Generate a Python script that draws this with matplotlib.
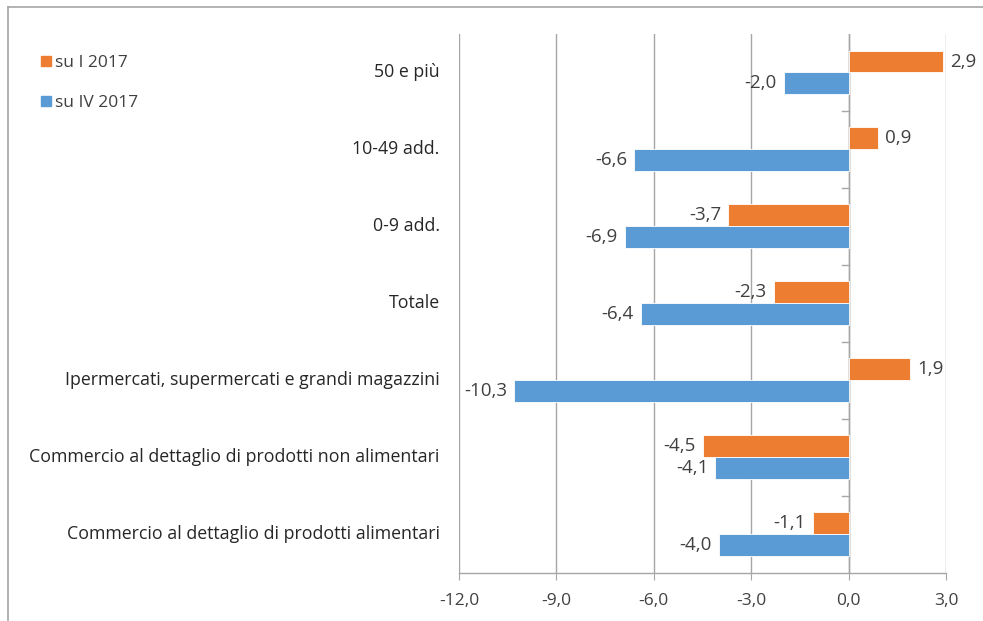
import matplotlib
matplotlib.use("Agg")
import matplotlib.pyplot as plt
from matplotlib.lines import Line2D
import numpy as np

categories = ["50 e più", "10-49 add.", "0-9 add.", "Totale",
              "Ipermercati, supermercati e grandi magazzini",
              "Commercio al dettaglio di prodotti non alimentari",
              "Commercio al dettaglio di prodotti alimentari"]
su_I_2017 = [2.9, 0.9, -3.7, -2.3, 1.9, -4.5, -1.1]
su_IV_2017 = [-2.0, -6.6, -6.9, -6.4, -10.3, -4.1, -4.0]
series_names = ["su I 2017", "su IV 2017"]
xticks = [-12, -9, -6, -3, 0, 3]

plt.rcParams['font.family'] = ['Open Sans', 'DejaVu Sans']

W, H = 983, 621
fig = plt.figure(figsize=(W / 100, H / 100), dpi=100)
ax = fig.add_axes([459 / W, 1 - 572.5 / H, (946 - 459) / W, (572.5 - 34) / H])

orange = "#ED7D31"
blue = "#5B9BD5"
n = len(categories)
y = np.arange(n)[::-1].astype(float)  # top category highest
bh = 0.285

ax.barh(y + bh / 2, su_I_2017, height=bh, color=orange, edgecolor="white", linewidth=0.6, zorder=3)
ax.barh(y - bh / 2, su_IV_2017, height=bh, color=blue, edgecolor="white", linewidth=0.6, zorder=3)

fmt = lambda v: f"{v:.1f}".replace(".", ",")
pad = 0.22
lab_fs = 13.5
for yi, v in list(zip(y + bh / 2, su_I_2017)) + list(zip(y - bh / 2, su_IV_2017)):
    if v >= 0:
        ax.text(v + pad, yi, fmt(v), ha="left", va="center", fontsize=lab_fs, color="#404040", zorder=4)
    else:
        ax.text(v - pad, yi, fmt(v), ha="right", va="center", fontsize=lab_fs, color="#404040", zorder=4)

ax.set_xlim(-12, 3)
ax.set_ylim(-0.5, n - 0.5)
ax.set_xticks(xticks)
ax.set_xticklabels([fmt(t) for t in xticks], fontsize=12.5, color="#404040")
ax.tick_params(axis="x", length=5, color="#A6A6A6", pad=10)
ax.xaxis.grid(True, color="#A6A6A6", linewidth=1, zorder=0)
for s in ["top", "right", "left"]:
    ax.spines[s].set_visible(False)
ax.spines["bottom"].set_color("#A6A6A6")
ax.spines["bottom"].set_linewidth(1)

# category axis at x = 0
ax.set_yticks([])
ax.axvline(0, color="#A6A6A6", linewidth=1, zorder=2)
for b in np.arange(0.5, n - 0.5, 1.0):
    ax.plot([-0.2, 0], [b, b], color="#A6A6A6", linewidth=1, zorder=2)

for yi, c in zip(y, categories):
    ax.annotate(c, xy=(0, yi), xycoords=("axes fraction", "data"),
                xytext=(-14, 0), textcoords="offset points",
                ha="right", va="center", fontsize=12.8, color="#262626")

# legend
handles = [Line2D([], [], marker="s", linestyle="none", color=orange, markersize=7),
           Line2D([], [], marker="s", linestyle="none", color=blue, markersize=7)]
fig.legend(handles, series_names, loc="upper left", bbox_to_anchor=(32 / W, 1 - 48 / H),
           frameon=False, fontsize=12.5, handletextpad=0.1, labelspacing=1.35,
           borderaxespad=0, handlelength=0.8, labelcolor="#404040")

# outer frame lines
fig.add_artist(Line2D([8 / W, 8 / W], [0, 1 - 7 / H], transform=fig.transFigure, color="#A6A6A6", linewidth=1.2))
fig.add_artist(Line2D([8 / W, 1], [1 - 7 / H, 1 - 7 / H], transform=fig.transFigure, color="#A6A6A6", linewidth=1.2))

fig.savefig("out.png", dpi=100)
